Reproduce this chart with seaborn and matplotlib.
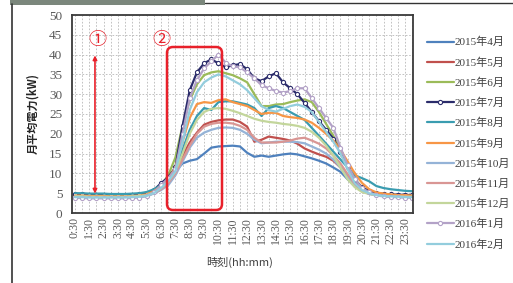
import matplotlib
matplotlib.use("Agg")
import matplotlib.pyplot as plt
import seaborn as sns
from matplotlib.lines import Line2D
from matplotlib.patches import FancyBboxPatch, Rectangle
from matplotlib.ticker import MultipleLocator

# 30-minute sampling times
times = ["0:30", "1:00", "1:30", "2:00", "2:30", "3:00", "3:30", "4:00", "4:30", "5:00",
         "5:30", "6:00", "6:30", "7:00", "7:30", "8:00", "8:30", "9:00", "9:30", "10:00",
         "10:30", "11:00", "11:30", "12:00", "12:30", "13:00", "13:30", "14:00", "14:30", "15:00",
         "15:30", "16:00", "16:30", "17:00", "17:30", "18:00", "18:30", "19:00", "19:30", "20:00",
         "20:30", "21:00", "21:30", "22:00", "22:30", "23:00", "23:30", "24:00"]

apr_2015 = [4.2, 4.2, 4.1, 4.1, 4.1, 4.0, 4.0, 4.0, 4.1, 4.2,
            4.4, 5.0, 6.0, 7.5, 10.5, 12.5, 13.2, 13.6, 15.0, 16.5,
            16.8, 16.9, 17.0, 16.8, 15.2, 14.2, 14.5, 14.2, 14.5, 14.8,
            15.0, 14.8, 14.3, 13.8, 13.2, 12.5, 11.5, 10.4, 8.5, 7.0,
            5.6, 4.9, 4.6, 4.4, 4.3, 4.2, 4.2, 4.1]
may_2015 = [4.3, 4.3, 4.2, 4.2, 4.2, 4.1, 4.1, 4.1, 4.2, 4.3,
            4.5, 5.2, 6.3, 8.0, 11.0, 14.5, 17.8, 20.3, 22.3, 23.0,
            23.4, 23.6, 23.6, 23.0, 21.8, 18.0, 18.5, 19.3, 19.0, 18.7,
            18.3, 17.5, 16.3, 15.5, 14.8, 14.2, 13.2, 11.5, 9.5, 7.5,
            6.0, 5.2, 4.8, 4.6, 4.4, 4.3, 4.3, 4.2]
jun_2015 = [4.5, 4.5, 4.4, 4.4, 4.4, 4.3, 4.3, 4.3, 4.4, 4.5,
            4.8, 5.5, 7.0, 9.5, 14.0, 22.0, 28.5, 32.5, 34.8, 35.5,
            35.8, 35.3, 34.8, 34.0, 33.0, 30.0, 27.0, 27.0, 27.4, 27.5,
            28.0, 28.4, 28.7, 28.0, 25.5, 22.5, 19.5, 16.0, 12.0, 8.5,
            6.5, 5.5, 5.0, 4.8, 4.6, 4.5, 4.5, 4.4]
jul_2015 = [4.7, 4.7, 4.6, 4.6, 4.6, 4.5, 4.5, 4.5, 4.6, 4.7,
            5.0, 5.8, 7.5, 9.0, 11.5, 22.0, 31.0, 35.5, 37.8, 38.8,
            37.8, 36.8, 37.3, 37.6, 36.3, 34.0, 33.3, 34.5, 35.3, 33.0,
            31.5, 30.0, 27.8, 25.5, 23.2, 21.0, 18.8, 15.5, 11.5, 8.3,
            6.5, 5.5, 5.0, 4.8, 4.7, 4.6, 4.6, 4.5]
aug_2015 = [5.0, 5.0, 4.9, 4.9, 4.9, 4.8, 4.8, 4.8, 4.9, 5.0,
            5.3, 6.0, 7.0, 8.5, 11.0, 16.0, 21.0, 24.5, 26.5, 26.0,
            28.0, 28.2, 28.2, 27.8, 27.4, 26.5, 24.5, 26.5, 27.0, 26.5,
            25.5, 24.5, 23.5, 21.5, 19.5, 17.5, 15.5, 13.5, 11.5, 9.5,
            8.8, 8.0, 6.8, 6.3, 6.0, 5.8, 5.6, 5.5]
sep_2015 = [4.4, 4.4, 4.3, 4.3, 4.3, 4.2, 4.2, 4.2, 4.3, 4.4,
            4.7, 5.5, 6.8, 8.5, 11.5, 18.0, 24.0, 27.5, 28.0, 27.8,
            28.5, 28.7, 28.0, 27.5, 27.0, 26.0, 25.0, 25.3, 25.3, 24.5,
            24.2, 24.0, 23.6, 22.8, 21.5, 20.0, 18.3, 16.0, 13.0, 10.0,
            7.6, 6.0, 5.2, 4.9, 4.7, 4.5, 4.5, 4.4]
oct_2015 = [4.0, 4.0, 3.9, 3.9, 3.9, 3.9, 3.9, 3.9, 4.0, 4.1,
            4.3, 4.9, 5.8, 7.0, 9.5, 13.0, 16.5, 19.0, 20.3, 21.0,
            21.5, 21.6, 21.5, 21.0, 20.0, 18.5, 17.6, 17.8, 18.0, 18.0,
            18.0, 17.9, 17.6, 16.8, 16.0, 15.0, 13.5, 11.5, 9.0, 6.8,
            5.5, 4.8, 4.4, 4.2, 4.1, 4.0, 4.0, 3.9]
nov_2015 = [4.1, 4.1, 4.0, 4.0, 4.0, 4.0, 4.0, 4.0, 4.1, 4.2,
            4.4, 5.0, 6.0, 7.5, 10.0, 13.5, 17.0, 20.0, 21.8, 22.5,
            22.8, 22.8, 22.6, 22.0, 21.0, 19.0, 17.8, 17.8, 17.8, 18.0,
            18.3, 18.8, 19.0, 18.3, 17.5, 16.3, 14.5, 12.5, 9.8, 7.3,
            5.6, 4.9, 4.5, 4.3, 4.2, 4.1, 4.1, 4.0]
dec_2015 = [4.2, 4.2, 4.1, 4.1, 4.1, 4.1, 4.1, 4.1, 4.2, 4.3,
            4.5, 5.2, 6.3, 8.0, 10.5, 15.0, 20.0, 23.5, 25.5, 26.3,
            26.5, 26.3, 25.8, 25.2, 24.5, 23.8, 23.3, 23.0, 22.8, 22.5,
            22.3, 22.0, 21.5, 20.5, 19.0, 17.0, 14.5, 11.5, 8.5, 6.5,
            5.3, 4.8, 4.5, 4.3, 4.2, 4.2, 4.1, 4.1]
jan_2016 = [3.8, 3.8, 3.7, 3.7, 3.7, 3.7, 3.7, 3.7, 3.8, 3.9,
            4.3, 5.2, 7.0, 8.8, 11.0, 20.0, 29.0, 33.5, 36.5, 38.3,
            40.0, 38.0, 37.0, 36.8, 35.5, 34.0, 32.3, 31.5, 30.8, 30.4,
            30.8, 31.5, 31.5, 29.0, 26.5, 24.0, 21.5, 16.5, 12.0, 8.5,
            6.3, 5.2, 4.6, 4.3, 4.1, 4.0, 3.9, 3.9]
feb_2016 = [4.0, 4.0, 3.9, 3.9, 3.9, 3.9, 3.9, 3.9, 4.0, 4.1,
            4.3, 5.0, 6.3, 8.0, 10.5, 18.0, 26.0, 30.5, 33.0, 34.2,
            35.0, 34.5, 33.5, 32.5, 31.0, 29.0, 27.0, 26.0, 25.6, 26.3,
            27.0, 27.4, 26.8, 25.5, 23.0, 20.5, 18.0, 15.0, 11.0, 7.5,
            5.8, 5.0, 4.5, 4.3, 4.2, 4.1, 4.0, 4.0]

months = ["2015年4月", "2015年5月", "2015年6月", "2015年7月", "2015年8月", "2015年9月",
          "2015年10月", "2015年11月", "2015年12月", "2016年1月", "2016年2月"]
series = [apr_2015, may_2015, jun_2015, jul_2015, aug_2015, sep_2015,
          oct_2015, nov_2015, dec_2015, jan_2016, feb_2016]
colors = ["#4f81bd", "#c0504d", "#9bbb59", "#2b2c6b", "#3a9cb0", "#f79646",
          "#95b3d7", "#d99694", "#c3d69b", "#b3a2c7", "#93cddd"]
markers = [None, None, None, "o", None, None, None, None, None, "o", None]


def to_hours(t):
    hh, mm = t.split(":")
    return int(hh) + int(mm) / 60


hours = [to_hours(t) for t in times]
tick_labels = [t for t in times if t.endswith(":30")]
tick_pos = [to_hours(t) for t in tick_labels]

sns.set_style("white")
plt.rcParams["font.family"] = ["Liberation Serif", "DejaVu Serif", "Noto Sans CJK JP"]
jp = ["Noto Sans CJK JP", "DejaVu Sans"]

fig = plt.figure(figsize=(5.13, 2.83), dpi=100)
ax = fig.add_axes([72 / 513, 1 - 213 / 283, 341 / 513, 198 / 283])

for name, vals, color, marker in zip(months, series, colors, markers):
    sns.lineplot(x=hours, y=vals, ax=ax, color=color, linewidth=1.6, marker=marker,
                 markersize=3, markerfacecolor="white", markeredgecolor=color,
                 markeredgewidth=0.8, label=name)

ax.set_xlim(0.3, 24.05)
ax.set_ylim(0, 50)
ax.yaxis.set_major_locator(MultipleLocator(5))
ax.set_xticks(tick_pos)
ax.set_xticklabels(tick_labels, rotation=90, fontsize=8.5, color="#595959")
ax.xaxis.set_minor_locator(MultipleLocator(0.5))
ax.tick_params(axis="y", labelsize=9.5, labelcolor="#595959", length=0, pad=7)
ax.tick_params(axis="x", which="both", length=0, pad=3)
ax.grid(True, axis="y", which="major", linestyle=(0, (2, 2)), color="#b8b8b8", linewidth=0.6)
ax.grid(True, axis="x", which="both", linestyle=(0, (2, 2)), color="#b8b8b8", linewidth=0.6)
for spine in ax.spines.values():
    spine.set_color("#3a3a3a")
    spine.set_linewidth(1.3)
ax.set_xlabel("")
ax.set_ylabel("")

fig.text(33 / 513, 1 - 113 / 283, "月平均電力(kW)", family=jp, fontsize=8, fontweight="bold",
         color="#262626", rotation=90, ha="center", va="center")
fig.text(240 / 513, 1 - 262 / 283, "時刻(hh:mm)", family=jp, fontsize=8, color="#404040",
         ha="center", va="center")

# red annotations
ax.annotate("", xy=(1.9, 4.2), xytext=(1.9, 40.5),
            arrowprops=dict(arrowstyle="<|-|>", color="#e8202a", lw=1.2, mutation_scale=6))
ax.text(2.05, 43.8, "①", family=jp, fontsize=13, color="#e8202a", ha="center", va="center")
ax.text(6.5, 43.8, "②", family=jp, fontsize=13, color="#e8202a", ha="center", va="center")
box = FancyBboxPatch((1.67, 0.73), 0.55, 1.63, boxstyle="round,pad=0,rounding_size=0.06",
                     transform=fig.dpi_scale_trans, fill=False, edgecolor="#e8202a",
                     linewidth=1.8, zorder=5)
fig.add_artist(box)

handles, labels = ax.get_legend_handles_labels()
ax.get_legend().remove()
fig.legend(handles, labels, loc="upper left", bbox_to_anchor=(427 / 513, 1 - 37 / 283),
           bbox_transform=fig.transFigure, frameon=False, fontsize=8, handlelength=2.4,
           handletextpad=0.1, labelspacing=0.88, borderpad=0, borderaxespad=0,
           labelcolor="#404040")

# frame of the original screenshot
fig.add_artist(Rectangle((10 / 513, 1 - 5 / 283), 195 / 513, 5 / 283, transform=fig.transFigure,
                         facecolor="#7b877c", edgecolor="none"))
fig.add_artist(Line2D([205 / 513, 1], [1 - 3 / 283, 1 - 3 / 283], transform=fig.transFigure,
                      color="#333333", linewidth=1.0))
fig.add_artist(Line2D([12 / 513, 12 / 513], [0, 1 - 4 / 283], transform=fig.transFigure,
                      color="#333333", linewidth=1.2))

fig.savefig("out.png", dpi=100)
